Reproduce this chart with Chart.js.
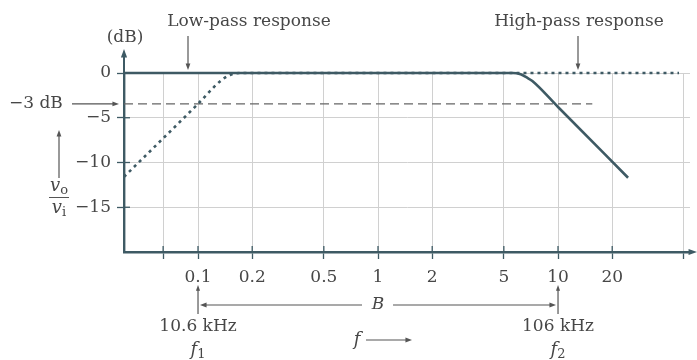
<!DOCTYPE html>
<html>
<head>
<meta charset="utf-8">
<script src="https://cdn.jsdelivr.net/npm/chart.js@4.4.1/dist/chart.umd.min.js"></script>
<style>
  html, body { margin: 0; padding: 0; background: #fff; }
</style>
</head>
<body>
<canvas id="bode" width="697" height="360"></canvas>
<script>
// tick positions and labels
const xTicks = [0.064, 0.1, 0.2, 0.5, 1, 2, 5, 10, 20, 50];
const xTickLabels = ['', '0.1', '0.2', '0.5', '1', '2', '5', '10', '20', ''];
const yTicks = [-15, -10, -5, 0];
const yTickLabels = ['\u221215', '\u221210', '\u22125', '0'];

// solid curve (low-pass response)
const lowPassF = [0.0388, 5.6, 6.2, 6.7, 7.2, 10, 24.5];
const lowPassDb = [0, 0, -0.15, -0.5, -0.9, -3.8, -11.7];
// dotted curve (high-pass response)
const highPassF = [0.0388, 0.1, 0.135, 0.152, 0.17, 47];
const highPassDb = [-11.6, -3.45, -0.8, -0.2, 0, 0];
// -3 dB reference line
const cutoffF = [0.0388, 15.5];
const cutoffDb = [-3.45, -3.45];

const ink = '#3e5a64';
const textColor = '#474747';
const serif = '"DejaVu Serif", "Liberation Serif", serif';

Chart.defaults.font.family = serif;
Chart.defaults.font.size = 17;
Chart.defaults.color = textColor;

function pairs(xs, ys) {
    return xs.map((x, i) => ({ x: x, y: ys[i] }));
}

function arrow(ctx, x1, y1, x2, y2, head) {
    const a = Math.atan2(y2 - y1, x2 - x1);
    ctx.beginPath();
    ctx.moveTo(x1, y1);
    ctx.lineTo(x2 - Math.cos(a) * head * 0.8, y2 - Math.sin(a) * head * 0.8);
    ctx.stroke();
    ctx.beginPath();
    ctx.moveTo(x2, y2);
    ctx.lineTo(x2 - head * Math.cos(a - 0.35), y2 - head * Math.sin(a - 0.35));
    ctx.lineTo(x2 - head * Math.cos(a + 0.35), y2 - head * Math.sin(a + 0.35));
    ctx.closePath();
    ctx.fill();
}

// italic letter followed by a small subscript
function subText(ctx, main, sub, cx, y, size) {
    ctx.font = 'italic ' + size + 'px ' + serif;
    const w1 = ctx.measureText(main).width;
    ctx.font = Math.round(size * 0.72) + 'px ' + serif;
    const w2 = ctx.measureText(sub).width;
    const x0 = cx - (w1 + w2) / 2;
    ctx.textAlign = 'left';
    ctx.font = 'italic ' + size + 'px ' + serif;
    ctx.fillText(main, x0, y);
    ctx.font = Math.round(size * 0.72) + 'px ' + serif;
    ctx.fillText(sub, x0 + w1, y + size * 0.25);
}

const annotations = {
    id: 'annotations',
    afterDraw(chart) {
        const ctx = chart.ctx;
        const area = chart.chartArea;
        const xs = chart.scales.x;
        const ys = chart.scales.y;
        ctx.save();
        ctx.strokeStyle = ink;
        ctx.fillStyle = ink;
        ctx.lineWidth = 2;

        // axis arrows
        arrow(ctx, area.left, area.top, area.left, 49, 9);
        arrow(ctx, area.right, area.bottom, 697, area.bottom, 9);

        // tick marks inside the axes
        ctx.lineWidth = 1.3;
        yTicks.forEach(v => {
            const y = ys.getPixelForValue(v);
            ctx.beginPath();
            ctx.moveTo(area.left, y);
            ctx.lineTo(area.left + 6, y);
            ctx.stroke();
        });
        xTicks.slice(0, -1).forEach(v => {
            const x = xs.getPixelForValue(v);
            ctx.beginPath();
            ctx.moveTo(x, area.bottom);
            ctx.lineTo(x, area.bottom - 6);
            ctx.stroke();
        });

        ctx.fillStyle = textColor;
        ctx.strokeStyle = '#555';
        ctx.textBaseline = 'middle';
        ctx.textAlign = 'center';
        ctx.font = '17px ' + serif;
        ctx.fillText('(dB)', 125, 38);
        ctx.fillText('Low-pass response', 249, 22);
        ctx.fillText('High-pass response', 579, 22);
        ctx.fillStyle = '#555';
        ctx.lineWidth = 1.2;
        arrow(ctx, 188, 36, 188, 70, 7);
        arrow(ctx, 578, 36, 578, 70, 7);

        // -3 dB marker
        const y3 = ys.getPixelForValue(cutoffDb[0]);
        ctx.fillStyle = textColor;
        ctx.textAlign = 'left';
        ctx.fillText('\u22123 dB', 9, y3);
        ctx.fillStyle = '#555';
        arrow(ctx, 72, y3, 119, y3, 7);

        // vo / vi label
        arrow(ctx, 59, 178, 59, 130, 7);
        ctx.fillStyle = textColor;
        subText(ctx, 'v', 'o', 59, 186, 18);
        ctx.beginPath();
        ctx.moveTo(49, 197.5);
        ctx.lineTo(69, 197.5);
        ctx.lineWidth = 1;
        ctx.stroke();
        subText(ctx, 'v', 'i', 59, 208, 18);

        // bandwidth markers
        const x1 = xs.getPixelForValue(0.1);
        const x2 = xs.getPixelForValue(10);
        ctx.fillStyle = '#555';
        ctx.lineWidth = 1.2;
        arrow(ctx, x1, 314, x1, 285, 6);
        arrow(ctx, x2, 314, x2, 285, 6);
        const yb = 305;
        const xB = xs.getPixelForValue(1);
        arrow(ctx, xB - 16, yb, x1 + 2, yb, 7);
        arrow(ctx, xB + 15, yb, x2 - 2, yb, 7);
        ctx.fillStyle = textColor;
        ctx.textAlign = 'center';
        ctx.font = 'italic 17px ' + serif;
        ctx.fillText('B', xB, yb);
        ctx.font = '17px ' + serif;
        ctx.fillText('10.6 kHz', x1, 327);
        ctx.fillText('106 kHz', x2, 327);
        subText(ctx, 'f', '1', x1, 350, 18);
        subText(ctx, 'f', '2', x2, 350, 18);
        subText(ctx, 'f', '', 357, 340, 18);
        ctx.fillStyle = '#555';
        arrow(ctx, 366, 340, 412, 340, 7);
        ctx.restore();
    }
};

new Chart(document.getElementById('bode'), {
    type: 'line',
    data: {
        datasets: [
            {
                label: 'Low-pass response',
                data: pairs(lowPassF, lowPassDb),
                borderColor: ink,
                borderWidth: 2.6,
                pointRadius: 0,
                cubicInterpolationMode: 'monotone',
                clip: false,
                order: 1
            },
            {
                label: 'High-pass response',
                data: pairs(highPassF, highPassDb),
                borderColor: ink,
                borderWidth: 2.6,
                borderDash: [3, 4],
                pointRadius: 0,
                cubicInterpolationMode: 'monotone',
                clip: false,
                order: 2
            },
            {
                label: '-3 dB',
                data: pairs(cutoffF, cutoffDb),
                borderColor: '#666',
                borderWidth: 1.3,
                borderDash: [9, 5],
                pointRadius: 0,
                order: 3
            }
        ]
    },
    options: {
        responsive: false,
        animation: false,
        devicePixelRatio: 1,
        layout: { padding: { top: 73, right: 7, bottom: 0, left: 0 } },
        plugins: {
            legend: { display: false },
            tooltip: { enabled: false }
        },
        scales: {
            x: {
                type: 'logarithmic',
                min: 0.0388,
                max: 54.1,
                afterFit: s => { s.height = 108; },
                afterBuildTicks: s => { s.ticks = xTicks.map(v => ({ value: v })); },
                ticks: {
                    autoSkip: false,
                    maxRotation: 0,
                    padding: 8,
                    font: { size: 17 },
                    callback: (v, i) => xTickLabels[i]
                },
                grid: { color: '#d0d0d0', lineWidth: 1, tickLength: 7, tickColor: ink, tickWidth: 1.3 },
                border: { color: ink, width: 2.4 }
            },
            y: {
                min: -20,
                max: 0,
                afterFit: s => { s.width = 124; },
                afterBuildTicks: s => { s.ticks = yTicks.map(v => ({ value: v })); },
                ticks: {
                    padding: 6,
                    font: { size: 17 },
                    callback: (v, i) => yTickLabels[i]
                },
                grid: { color: '#d0d0d0', lineWidth: 1, tickLength: 7, tickColor: ink, tickWidth: 1.3 },
                border: { color: ink, width: 2.4 }
            }
        }
    },
    plugins: [annotations]
});
</script>
</body>
</html>
